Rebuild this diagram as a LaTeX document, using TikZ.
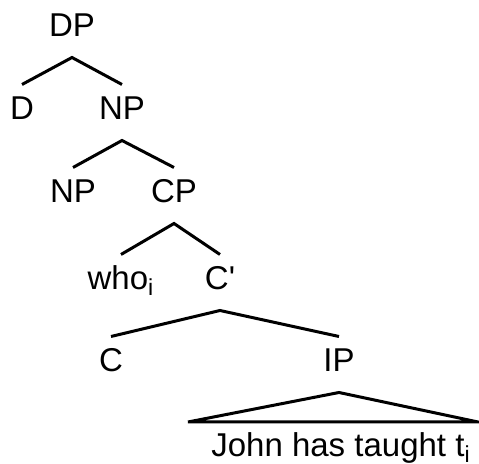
\documentclass[tikz,border=0pt]{standalone}
\usepackage{fontspec}
\setmainfont{Liberation Sans}

\begin{document}
\begin{tikzpicture}[x=0.5pt, y=-0.5pt, line width=1.5pt,
    every node/.style={font=\fontsize{16.5}{20}\selectfont, inner sep=0pt, anchor=base, text height=17pt, text depth=9.5pt}]
    \useasboundingbox (0,0) rectangle (479,464);
    % categories, placed at their baselines
    \node (dp) at (72,37) {DP};
    \node (d) at (22,120) {D};
    \node (np) at (122,120) {NP};
    \node (npin) at (73,203) {NP};
    \node (cp) at (174,203) {CP};
    \node (who) at (121,290) {who\textsubscript{i}};
    \node (cbar) at (220,290) {C\textquotesingle};
    \node (c) at (111,372) {C};
    \node (ip) at (339,372) {IP};
    \node (john) at (341,457) {John has taught t\textsubscript{i}};
    \coordinate (ipl) at (188,422);
    \coordinate (ipr) at (478,422);
    % branches
    \draw (d.north) -- (dp.south) -- (np.north);
    \draw (npin.north) -- (np.south) -- (cp.north);
    \draw (who.north) -- (cp.south) -- (cbar.north);
    \draw (c.north) -- (cbar.south) -- (ip.north);
    \draw (ipl) -- (ip.south) -- (ipr) -- cycle;
  \end{tikzpicture}
\end{document}
